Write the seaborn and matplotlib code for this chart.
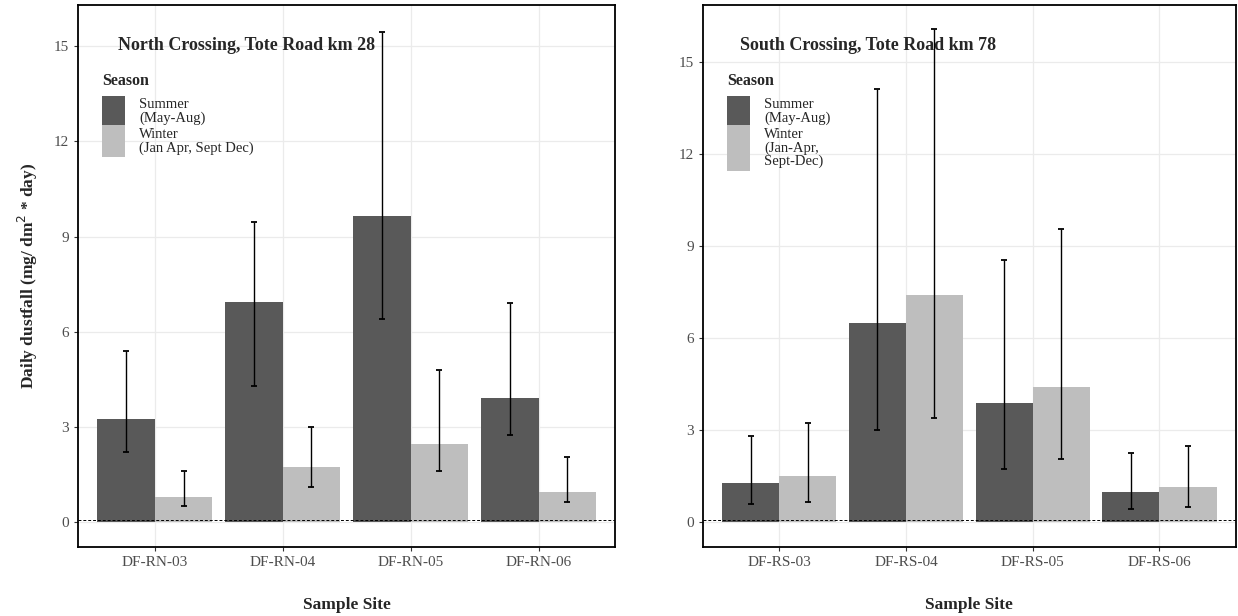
import numpy as np
import pandas as pd
import matplotlib
matplotlib.use("Agg")
import matplotlib.pyplot as plt
from matplotlib.patches import Patch, Rectangle
from matplotlib.legend_handler import HandlerPatch
import seaborn as sns

sns.set_style("whitegrid")
plt.rcParams['font.family'] = ['Liberation Serif', 'DejaVu Serif']

# Data
seasons = ['Summer', 'Winter']
season_colors = {'Summer': '#595959', 'Winter': '#bebebe'}

north_sites = ['DF-RN-03', 'DF-RN-04', 'DF-RN-05', 'DF-RN-06']
north_summer = [3.25, 6.95, 9.65, 3.9]
north_summer_lo = [2.2, 4.3, 6.4, 2.75]
north_summer_hi = [5.4, 9.45, 15.45, 6.9]
north_winter = [0.8, 1.75, 2.45, 0.95]
north_winter_lo = [0.5, 1.1, 1.6, 0.65]
north_winter_hi = [1.6, 3.0, 4.8, 2.05]

south_sites = ['DF-RS-03', 'DF-RS-04', 'DF-RS-05', 'DF-RS-06']
south_summer = [1.3, 6.5, 3.9, 1.0]
south_summer_lo = [0.6, 3.0, 1.75, 0.45]
south_summer_hi = [2.8, 14.1, 8.55, 2.25]
south_winter = [1.5, 7.4, 4.4, 1.15]
south_winter_lo = [0.65, 3.4, 2.05, 0.5]
south_winter_hi = [3.25, 16.05, 9.55, 2.5]

detection_limit = 0.07
y_ticks = [0, 3, 6, 9, 12, 15]


class BlockHandler(HandlerPatch):
    # legend key that fills the whole text row (ggplot style)
    def __init__(self, nlines, **kw):
        super().__init__(**kw)
        self.nlines = nlines

    def create_artists(self, legend, orig_handle, xdescent, ydescent,
                       width, height, fontsize, trans):
        line_h = fontsize * 1.0
        h = line_h * self.nlines + 2
        y0 = -ydescent + height / 2 - h / 2
        r = Rectangle((-xdescent, y0), width, h,
                      facecolor=orig_handle.get_facecolor(), edgecolor='none')
        r.set_transform(trans)
        return [r]


panels = [
    dict(title='North Crossing, Tote Road km 28', sites=north_sites,
         summer=(north_summer, north_summer_lo, north_summer_hi),
         winter=(north_winter, north_winter_lo, north_winter_hi),
         labels=['Summer\n(May-Aug)', 'Winter\n(Jan Apr, Sept Dec)'],
         rect=[0.063, 0.112, 0.434, 0.880], ylim=(-0.78, 16.3), tx=0.074),
    dict(title='South Crossing, Tote Road km 78', sites=south_sites,
         summer=(south_summer, south_summer_lo, south_summer_hi),
         winter=(south_winter, south_winter_lo, south_winter_hi),
         labels=['Summer\n(May-Aug)', 'Winter\n(Jan-Apr,\nSept-Dec)'],
         rect=[0.568, 0.112, 0.430, 0.880], ylim=(-0.80, 16.85), tx=0.069),
]

fig = plt.figure(figsize=(12.38, 6.16), dpi=100)

for i, p in enumerate(panels):
    ax = fig.add_axes(p['rect'])
    df = pd.DataFrame({
        'site': p['sites'] * 2,
        'Season': ['Summer'] * 4 + ['Winter'] * 4,
        'value': list(p['summer'][0]) + list(p['winter'][0]),
        'lo': list(p['summer'][1]) + list(p['winter'][1]),
        'hi': list(p['summer'][2]) + list(p['winter'][2]),
    })
    sns.barplot(data=df, x='site', y='value', hue='Season', hue_order=seasons,
                palette=season_colors, width=0.9, linewidth=0, saturation=1,
                errorbar=None, ax=ax, legend=False, zorder=2)

    # error bars at bar centres
    for cont, s in zip(ax.containers, seasons):
        sub = df[df.Season == s]
        xs = [b.get_x() + b.get_width() / 2 for b in cont]
        vals = sub['value'].values
        ax.errorbar(xs, vals, yerr=[vals - sub['lo'].values, sub['hi'].values - vals],
                    fmt='none', ecolor='black', elinewidth=1.0, capsize=2.5,
                    capthick=1.3, zorder=3)

    ax.axhline(detection_limit, color='black', linestyle=(0, (3, 2)), linewidth=0.7, zorder=4)

    ax.set_xlim(-0.6, 3.6)
    ax.set_ylim(*p['ylim'])
    ax.set_yticks(y_ticks)
    ax.grid(True, color='#ebebeb', linewidth=0.9)
    ax.set_axisbelow(True)
    for sp in ax.spines.values():
        sp.set_visible(True)
        sp.set_color('black')
        sp.set_linewidth(1.3)
    ax.tick_params(axis='both', which='major', length=3, color='#333333',
                   labelsize=11, labelcolor='#4d4d4d', direction='out',
                   left=True, bottom=True)

    ax.set_xlabel('Sample Site', fontsize=12.5, fontweight='bold', labelpad=20)
    if i == 0:
        ax.set_ylabel('Daily dustfall (mg/ dm$^2$ * day)', fontsize=12.5,
                      fontweight='bold', labelpad=10)
    else:
        ax.set_ylabel('')

    ax.text(p['tx'], 0.925, p['title'], transform=ax.transAxes, fontsize=13,
            fontweight='bold', va='center', ha='left')

    handles = [Patch(facecolor=season_colors[s], edgecolor='none') for s in seasons]
    hmap = {h: BlockHandler(lab.count('\n') + 1) for h, lab in zip(handles, p['labels'])}
    leg = ax.legend(handles, p['labels'], title='Season', loc='upper left',
                    bbox_to_anchor=(0.045, 0.875), frameon=False, fontsize=10.5,
                    title_fontproperties={'weight': 'bold', 'size': 11.5},
                    handlelength=1.55, handleheight=1.0, labelspacing=0.22,
                    handletextpad=1.0, borderaxespad=0, borderpad=0,
                    alignment='left', handler_map=hmap)
    leg._legend_box.sep = 7
    for t in leg.get_texts():
        t.set_linespacing(1.0)

fig.savefig('out.png', dpi=100)
